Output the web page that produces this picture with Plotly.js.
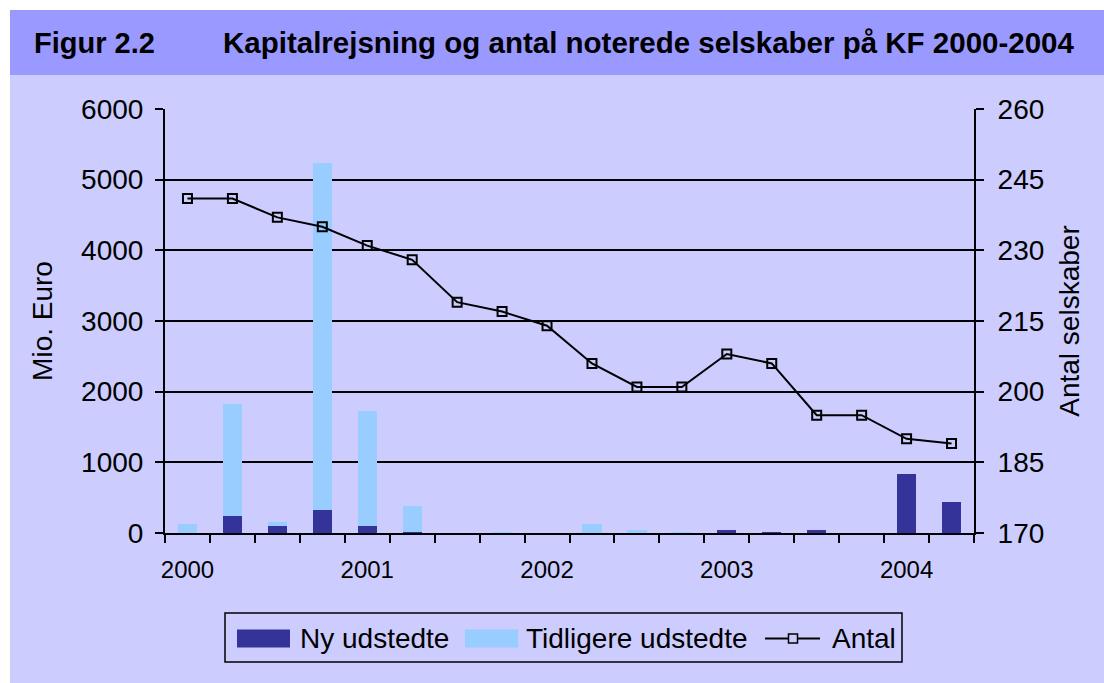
<!DOCTYPE html>
<html>
<head>
<meta charset="utf-8">
<script src="https://cdn.plot.ly/plotly-3.0.1.min.js"></script>
<style>
  html, body { margin: 0; padding: 0; background: #ffffff; }
  #chart { width: 1104px; height: 683px; }
</style>
</head>
<body>
<div id="chart"></div>
<script>
// ---- Data ----
const quarters = ['2000 K1','2000 K2','2000 K3','2000 K4',
                  '2001 K1','2001 K2','2001 K3','2001 K4',
                  '2002 K1','2002 K2','2002 K3','2002 K4',
                  '2003 K1','2003 K2','2003 K3','2003 K4',
                  '2004 K1','2004 K2'];
const nyUdstedte        = [0, 240, 100, 325, 100, 20, 0, 0, 0, 0, 0, 0, 45, 15, 45, 0, 840, 440];
const tidligereUdstedte = [130, 1590, 55, 4905, 1620, 360, 0, 15, 0, 130, 40, 15, 0, 0, 0, 0, 0, 0];
const antal             = [241, 241, 237, 235, 231, 228, 219, 217, 214, 206, 201, 201, 208, 206, 195, 195, 190, 189];
const yearLabels  = ['2000', '2001', '2002', '2003', '2004'];
const yearTickIdx = [0, 4, 8, 12, 16];
const seriesNames = ['Ny udstedte', 'Tidligere udstedte', 'Antal'];
const titleFig  = 'Figur 2.2';
const titleMain = 'Kapitalrejsning og antal noterede selskaber på KF 2000-2004';

// ---- Styling / layout constants ----
const W = 1104, H = 683;
const M = {l: 165, r: 130, t: 109, b: 150};
const PW = W - M.l - M.r, PH = H - M.t - M.b;
const px = v => (v - M.l) / PW;            // pixel x -> paper x
const py = v => (H - M.b - v) / PH;        // pixel y -> paper y
const FONT = 'Liberation Sans, Arial, Helvetica, sans-serif';
const BG = '#CCCCFF', BAND = '#9999FF', DARK = '#333399', LIGHT = '#99CCFF';

const xIdx = quarters.map((_, i) => i);
const boundaries = quarters.map((_, i) => i - 0.5).concat([quarters.length - 0.5]);

const traces = [
  {type: 'bar', name: seriesNames[0], x: xIdx, y: nyUdstedte, marker: {color: DARK},
   showlegend: false, hoverinfo: 'y'},
  {type: 'bar', name: seriesNames[1], x: xIdx, y: tidligereUdstedte, marker: {color: LIGHT},
   showlegend: false, hoverinfo: 'y'},
  {type: 'scatter', mode: 'lines+markers', name: seriesNames[2], x: xIdx, y: antal, yaxis: 'y2',
   line: {color: '#000000', width: 2},
   marker: {symbol: 'square-open', size: 9, color: '#000000', line: {width: 2, color: '#000000'}},
   showlegend: false, hoverinfo: 'y'}
];

// Custom legend (swatches + text), drawn in paper coordinates
const legY = 638.5;
const shapes = [
  // page background (light purple) and title band
  {type: 'rect', xref: 'paper', yref: 'paper', x0: px(10), x1: px(W + 5), y0: py(H + 5), y1: py(10),
   fillcolor: BG, line: {width: 0}, layer: 'below'},
  {type: 'rect', xref: 'paper', yref: 'paper', x0: px(10), x1: px(W + 5), y0: py(75), y1: py(10),
   fillcolor: BAND, line: {width: 0}, layer: 'below'},
  // legend box
  {type: 'rect', xref: 'paper', yref: 'paper', x0: px(225), x1: px(902), y0: py(662), y1: py(613),
   fillcolor: BG, line: {color: '#000000', width: 1.5}, layer: 'above'},
  {type: 'rect', xref: 'paper', yref: 'paper', x0: px(237), x1: px(290), y0: py(legY + 9), y1: py(legY - 9),
   fillcolor: DARK, line: {width: 0}, layer: 'above'},
  {type: 'rect', xref: 'paper', yref: 'paper', x0: px(465), x1: px(518), y0: py(legY + 9), y1: py(legY - 9),
   fillcolor: LIGHT, line: {width: 0}, layer: 'above'},
  {type: 'line', xref: 'paper', yref: 'paper', x0: px(765), x1: px(820), y0: py(legY), y1: py(legY),
   line: {color: '#000000', width: 2}, layer: 'above'},
  {type: 'rect', xref: 'paper', yref: 'paper', x0: px(788.5), x1: px(797.5), y0: py(legY + 4.5), y1: py(legY - 4.5),
   fillcolor: BG, line: {color: '#000000', width: 1.5}, layer: 'above'}
];

const annotations = [
  {text: '<b>' + titleFig + '</b>', xref: 'paper', yref: 'paper', x: px(32), y: py(43),
   xanchor: 'left', yanchor: 'middle', showarrow: false, font: {family: FONT, size: 29, color: '#000000'}},
  {text: seriesNames[0], xref: 'paper', yref: 'paper', x: px(298), y: py(legY),
   xanchor: 'left', yanchor: 'middle', showarrow: false, font: {family: FONT, size: 28, color: '#000000'}},
  {text: seriesNames[1], xref: 'paper', yref: 'paper', x: px(524), y: py(legY),
   xanchor: 'left', yanchor: 'middle', showarrow: false, font: {family: FONT, size: 28, color: '#000000'}},
  {text: seriesNames[2], xref: 'paper', yref: 'paper', x: px(830), y: py(legY),
   xanchor: 'left', yanchor: 'middle', showarrow: false, font: {family: FONT, size: 28, color: '#000000'}}
];

const layout = {
  width: W, height: H,
  margin: M,
  paper_bgcolor: '#ffffff',
  plot_bgcolor: BG,
  font: {family: FONT, color: '#000000'},
  title: {text: '<b>' + titleMain + '</b>', xref: 'container', yref: 'container',
          x: 223 / W, y: 1 - 43 / H, xanchor: 'left', yanchor: 'middle',
          font: {family: FONT, size: 29.5, color: '#000000'}},
  barmode: 'stack',
  bargap: 0.57,
  showlegend: false,
  xaxis: {
    range: [-0.5, quarters.length - 0.5],
    tickvals: yearTickIdx, ticktext: yearLabels,
    ticks: '', showgrid: false, zeroline: false,
    showline: true, linecolor: '#000000', linewidth: 2,
    tickfont: {family: FONT, size: 24, color: '#000000'},
    ticklabelstandoff: 14,
    minor: {tickvals: boundaries, ticks: 'outside', ticklen: 8, tickwidth: 2, tickcolor: '#000000', showgrid: false}
  },
  yaxis: {
    range: [0, 6000], dtick: 1000, tick0: 0,
    showgrid: true, gridcolor: '#000000', gridwidth: 2, zeroline: false,
    showline: true, linecolor: '#000000', linewidth: 2,
    ticks: 'outside', ticklen: 8, tickwidth: 2, tickcolor: '#000000',
    tickfont: {family: FONT, size: 28, color: '#000000'},
    ticklabelstandoff: 6,
    title: {text: 'Mio. Euro', font: {family: FONT, size: 28, color: '#000000'}, standoff: 20}
  },
  yaxis2: {
    range: [170, 260], dtick: 15, tick0: 170,
    overlaying: 'y', side: 'right',
    showgrid: false, zeroline: false,
    showline: true, linecolor: '#000000', linewidth: 2,
    ticks: 'outside', ticklen: 8, tickwidth: 2, tickcolor: '#000000',
    tickfont: {family: FONT, size: 28, color: '#000000'},
    ticklabelstandoff: 8,
    title: {text: 'Antal selskaber', font: {family: FONT, size: 28, color: '#000000'}, standoff: 16}
  },
  shapes: shapes,
  annotations: annotations
};

Plotly.newPlot('chart', traces, layout, {displayModeBar: false, staticPlot: true});
</script>
</body>
</html>
